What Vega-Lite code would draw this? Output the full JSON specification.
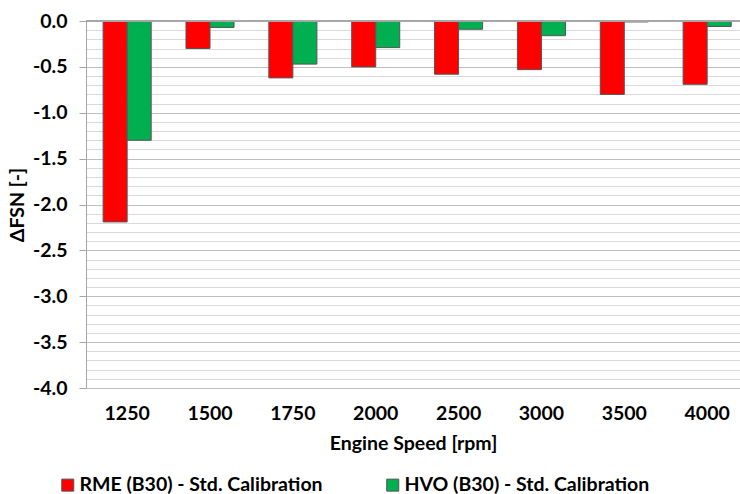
{
  "$schema": "https://vega.github.io/schema/vega-lite/v6.json",
  "width": 654,
  "height": 367,
  "autosize": {"type": "none"},
  "padding": {"left": 86, "top": 21, "right": 0, "bottom": 106},
  "background": "white",
  "config": {
    "font": "Lato",
    "view": {"stroke": null},
    "axis": {"labelFont": "Lato", "titleFont": "Lato", "labelFontWeight": "bold", "titleFontWeight": "bold", "labelFontSize": 19.5, "titleFontSize": 19.5, "labelColor": "#000000", "titleColor": "#000000"}
  },
  "data": {
    "values": [
      {"speed": "1250", "fuel": "RME (B30) - Std. Calibration", "dfsn": -2.19},
      {"speed": "1250", "fuel": "HVO (B30) - Std. Calibration", "dfsn": -1.3},
      {"speed": "1500", "fuel": "RME (B30) - Std. Calibration", "dfsn": -0.3},
      {"speed": "1500", "fuel": "HVO (B30) - Std. Calibration", "dfsn": -0.07},
      {"speed": "1750", "fuel": "RME (B30) - Std. Calibration", "dfsn": -0.62},
      {"speed": "1750", "fuel": "HVO (B30) - Std. Calibration", "dfsn": -0.47},
      {"speed": "2000", "fuel": "RME (B30) - Std. Calibration", "dfsn": -0.5},
      {"speed": "2000", "fuel": "HVO (B30) - Std. Calibration", "dfsn": -0.29},
      {"speed": "2500", "fuel": "RME (B30) - Std. Calibration", "dfsn": -0.58},
      {"speed": "2500", "fuel": "HVO (B30) - Std. Calibration", "dfsn": -0.09},
      {"speed": "3000", "fuel": "RME (B30) - Std. Calibration", "dfsn": -0.53},
      {"speed": "3000", "fuel": "HVO (B30) - Std. Calibration", "dfsn": -0.16},
      {"speed": "3500", "fuel": "RME (B30) - Std. Calibration", "dfsn": -0.8},
      {"speed": "3500", "fuel": "HVO (B30) - Std. Calibration", "dfsn": -0.01},
      {"speed": "4000", "fuel": "RME (B30) - Std. Calibration", "dfsn": -0.69},
      {"speed": "4000", "fuel": "HVO (B30) - Std. Calibration", "dfsn": -0.06}
    ]
  },
  "resolve": {"axis": {"y": "independent"}},
  "layer": [
    {
      "mark": {"type": "rule", "color": "#a6a6a6", "strokeWidth": 0, "opacity": 0},
      "encoding": {
        "y": {
          "datum": 0, "type": "quantitative",
          "scale": {"domain": [-4, 0], "nice": false, "zero": false},
          "axis": {
            "orient": "left", "title": null, "labels": false, "ticks": false, "domain": false,
            "values": [-0.1, -0.2, -0.3, -0.4, -0.6, -0.7, -0.8, -0.9, -1.1, -1.2, -1.3, -1.4, -1.6, -1.7, -1.8, -1.9, -2.1, -2.2, -2.3, -2.4, -2.6, -2.7, -2.8, -2.9, -3.1, -3.2, -3.3, -3.4, -3.6, -3.7, -3.8, -3.9],
            "labelOverlap": false,
            "grid": true, "gridColor": "#d9d9d9", "gridWidth": 1
          }
        }
      }
    },
    {
      "mark": {"type": "bar", "stroke": "#555555", "strokeWidth": 1},
      "encoding": {
        "x": {
          "field": "speed", "type": "ordinal", "sort": null,
          "scale": {"paddingInner": 0.42, "paddingOuter": 0.1565, "align": 0.66},
          "axis": {"title": "Engine Speed [rpm]", "labelAngle": 0, "domain": false, "ticks": false, "labelPadding": 16, "titlePadding": 12}
        },
        "xOffset": {"field": "fuel", "type": "nominal", "sort": ["RME (B30) - Std. Calibration", "HVO (B30) - Std. Calibration"]},
        "y": {
          "field": "dfsn", "type": "quantitative",
          "scale": {"domain": [-4, 0], "nice": false, "zero": false},
          "axis": {
            "orient": "left",
            "title": "ΔFSN [-]",
            "values": [0, -0.5, -1, -1.5, -2, -2.5, -3, -3.5, -4],
            "labelExpr": "datum.value < 0 ? '-' + format(-datum.value, '.1f') : format(datum.value, '.1f')",
            "labelOverlap": false,
            "labelFlush": false,
            "grid": true, "gridColor": "#bfbfbf", "gridWidth": 1,
            "domain": true, "domainColor": "#a6a6a6",
            "ticks": true, "tickSize": 7, "tickColor": "#a6a6a6",
            "labelPadding": 12, "titlePadding": 5
          }
        },
        "color": {
          "field": "fuel", "type": "nominal",
          "sort": ["RME (B30) - Std. Calibration", "HVO (B30) - Std. Calibration"],
          "scale": {"domain": ["RME (B30) - Std. Calibration", "HVO (B30) - Std. Calibration"], "range": ["#ff0000", "#00b050"]},
          "legend": {
            "title": null, "orient": "none", "direction": "horizontal", "columns": 2,
            "legendX": -28, "legendY": 454, "padding": 0,
            "symbolType": "square", "symbolSize": 144, "symbolStrokeColor": "#555555", "symbolStrokeWidth": 1,
            "labelFont": "Lato", "labelFontSize": 19.5, "labelFontWeight": "bold", "labelColor": "#000000",
            "labelLimit": 400, "columnPadding": 60, "labelOffset": 2
          }
        }
      }
    },
    {
      "mark": {"type": "rule", "color": "#a6a6a6", "strokeWidth": 1.5},
      "encoding": {"y": {"datum": 0, "type": "quantitative", "axis": null}}
    }
  ]
}
